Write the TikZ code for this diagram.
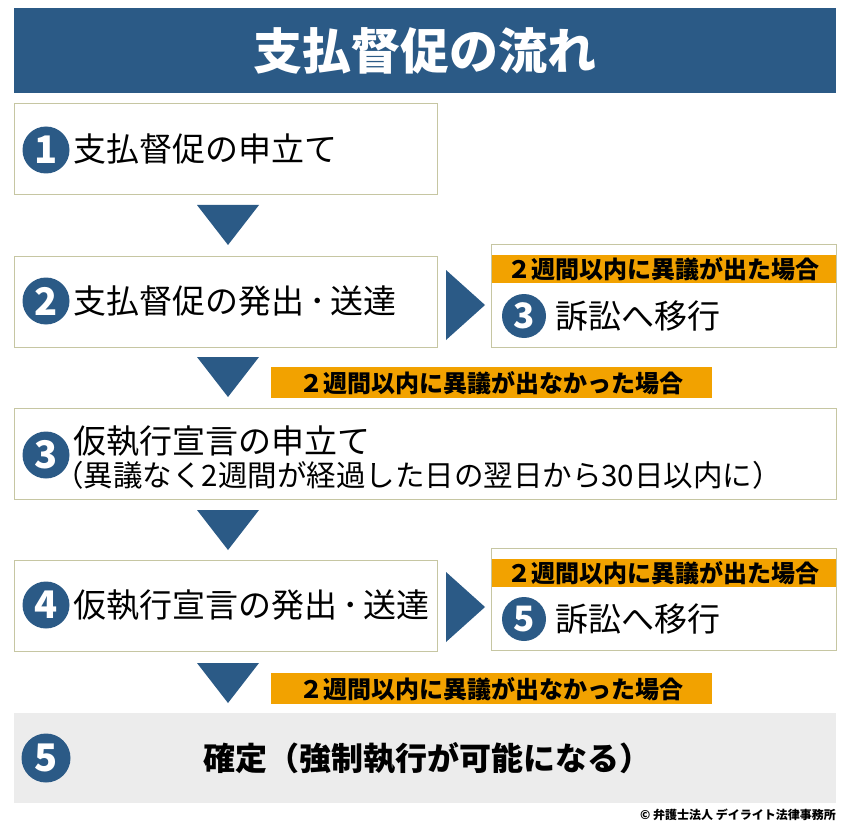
\documentclass[tikz,border=0pt]{standalone}
\usepackage{fontspec}
\setmainfont{Noto Sans CJK JP}
\usetikzlibrary{positioning}

\definecolor{navy}{HTML}{2B5A86}
\definecolor{band}{HTML}{F2A200}
\definecolor{frame}{HTML}{C6C6A2}
\definecolor{pale}{HTML}{ECECEC}

\begin{document}
\begin{tikzpicture}[x=1pt,y=-1pt,
  box/.style={draw=frame, line width=1.4pt, fill=white, anchor=north west, inner sep=0pt},
  badge/.style={circle, fill=navy, text=white, minimum size=47pt, inner sep=0pt, font=\fontsize{38}{38}\bfseries},
  body/.style={anchor=west, inner sep=0pt, font=\fontsize{33}{33}\selectfont},
  tag/.style={fill=band, anchor=north west, inner sep=0pt, font=\fontsize{24}{24}\bfseries}]
\useasboundingbox[fill=white] (0,0) rectangle (850,826);

% title bar
\node[fill=navy, anchor=north west, minimum width=822pt, minimum height=85pt, inner sep=0pt,
  text=white, font=\fontsize{49}{49}\bfseries] (title) at (14,8) {支払督促の流れ};

% left column of steps
\node[box, minimum width=423pt, minimum height=91pt] (s1) at (14,103) {};
\node[box, minimum width=423pt, minimum height=91pt] (s2) at (14,256) {};
\node[box, minimum width=822pt, minimum height=91pt] (s3) at (14,408) {};
\node[box, minimum width=423pt, minimum height=91pt] (s4) at (14,560) {};
\node[fill=pale, anchor=north west, minimum width=822pt, minimum height=90pt, inner sep=0pt] (s5) at (14,713) {};

% branch boxes
\node[box, minimum width=345pt, minimum height=103pt] (r1) at (491,244) {};
\node[box, minimum width=345pt, minimum height=102pt] (r2) at (491,548) {};
\node[tag, minimum width=344pt, minimum height=28pt] (t1) at (491.5,255) {２週間以内に異議が出た場合};
\node[tag, minimum width=344pt, minimum height=28pt] (t2) at (491.5,559) {２週間以内に異議が出た場合};

% no objection bands
\node[tag, minimum width=441pt, minimum height=31pt] (n1) at (271,367) {２週間以内に異議が出なかった場合};
\node[tag, minimum width=441pt, minimum height=31pt] (n2) at (271,673) {２週間以内に異議が出なかった場合};

% badges and texts
\node[badge] (b1) at (46,150) {1};
\node[body] (x1) at (73,149) {支払督促の申立て};
\node[badge] (b2) at (46,301) {2};
\node[body] (x2) at (73,301) {支払督促の発出\hspace{0.15em}･\hspace{0.15em}送達};
\node[badge] (b3) at (46,455) {3};
\node[body] (x3) at (73,441) {仮執行宣言の申立て};
\node[anchor=west, inner sep=0pt, font=\fontsize{29.5}{29.5}\selectfont] (x3b) at (54,475) {（異議なく2週間が経過した日の翌日から30日以内に）};
\node[badge] (b4) at (46,605) {4};
\node[body] (x4) at (73,605) {仮執行宣言の発出\hspace{0.15em}･\hspace{0.15em}送達};
\node[badge, minimum size=49pt] (b5) at (46,758) {5};
\node[font=\fontsize{32}{32}\bfseries, inner sep=0pt] (x5) at (427,758) {確定（強制執行が可能になる）};

\node[badge, minimum size=44pt, font=\fontsize{35}{35}\bfseries] (c3) at (524,316) {3};
\node[body] (y3) at (555,316) {訴訟へ移行};
\node[badge, minimum size=44pt, font=\fontsize{35}{35}\bfseries] (c5) at (524,619) {5};
\node[body] (y5) at (555,619) {訴訟へ移行};

% arrows
\coordinate (d1) at (228,225);
\coordinate (d2) at (228,377);
\coordinate (d3) at (228,530);
\coordinate (d4) at (228,683);
\foreach \d in {d1,d2,d3,d4}
  \fill[navy] (\d) ++(-31,-20) -- ++(62,0) -- ++(-31,40) -- cycle;
\coordinate (e1) at (465,305);
\coordinate (e2) at (465,607);
\foreach \e in {e1,e2}
  \fill[navy] (\e) ++(-19,-35) -- ++(0,70) -- ++(39,-35) -- cycle;

% credit
\node[anchor=east, inner sep=0pt, font=\fontsize{12}{12}\bfseries] (cr) at (836,815) {© 弁護士法人 デイライト法律事務所};
\end{tikzpicture}
\end{document}
